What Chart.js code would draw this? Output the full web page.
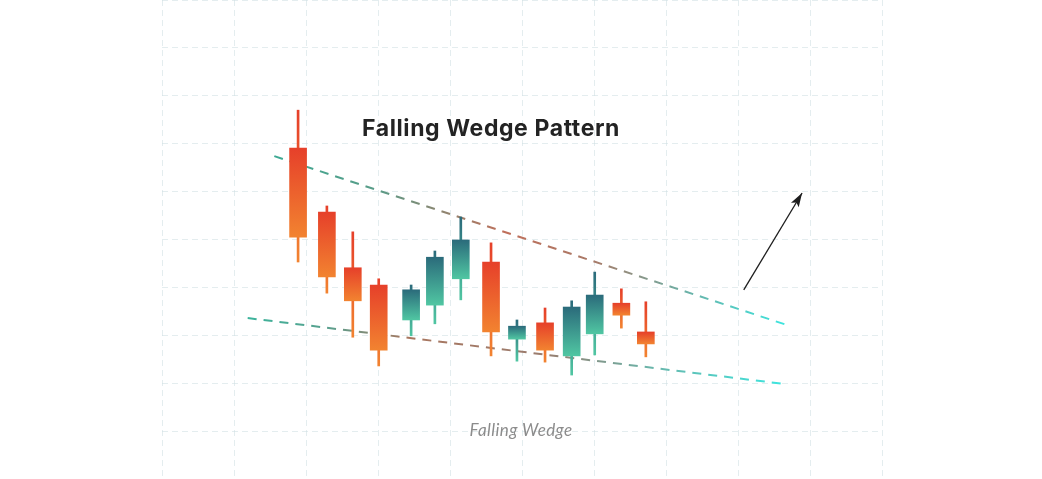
<!DOCTYPE html>
<html>
<head>
<meta charset="utf-8">
<title>Falling Wedge Pattern</title>
<script src="https://cdn.jsdelivr.net/npm/chart.js@4.4.1/dist/chart.umd.min.js"></script>
<style>
    body { margin: 0; background: #fff; }
    #wrap { position: relative; width: 1042px; height: 479px; overflow: hidden; }
    #wedgeChart { position: absolute; left: 0; top: 0; }
    .label { position: absolute; white-space: nowrap; transform: translateX(-50%); line-height: 1; }
    #title { left: 491px; top: 114px; font: 700 23px Inter, sans-serif; color: #232323; letter-spacing: 0.6px; }
    #subtitle { left: 521px; top: 419px; font: italic 400 17px Lato, sans-serif; color: #8c8c8c; letter-spacing: 0.4px; }
</style>
</head>
<body>
<div id="wrap">
    <canvas id="wedgeChart" width="1042" height="479"></canvas>
    <div class="label" id="title">Falling Wedge Pattern</div>
    <div class="label" id="subtitle">Falling Wedge</div>
</div>
<script>
// candle positions and prices (grid units)
const candleX    = [1.89, 2.29, 2.65, 3.01, 3.46, 3.79, 4.15, 4.57, 4.93, 5.32, 5.69, 6.01, 6.38, 6.72];
const openVals   = [6.91, 5.57, 4.41, 4.05, 3.32, 3.63, 4.18, 4.53, 2.92, 3.26, 2.57, 3.03, 3.67, 3.07];
const highVals   = [7.70, 5.70, 5.16, 4.18, 4.05, 4.76, 5.47, 4.93, 3.32, 3.57, 3.72, 4.32, 3.97, 3.70];
const lowVals    = [4.53, 3.88, 2.96, 2.36, 2.99, 3.24, 3.74, 2.57, 2.46, 2.44, 2.17, 2.59, 3.15, 2.55];
const closeVals  = [5.05, 4.22, 3.72, 2.69, 3.95, 4.63, 4.99, 3.07, 3.19, 2.69, 3.59, 3.84, 3.42, 2.82];

// wedge trend lines and breakout arrow
const upperLineX = [1.56, 8.69];
const upperLineY = [6.74, 3.21];
const lowerLineX = [1.19, 8.66];
const lowerLineY = [3.36, 1.98];
const arrowX     = [8.08, 8.89];
const arrowY     = [3.95, 5.97];

// grid ticks
const xTicks = [0, 1, 2, 3, 4, 5, 6, 7, 8, 9, 10];
const yTicks = [0, 1, 2, 3, 4, 5, 6, 7, 8, 9, 10];

const RED = ['#e6402a', '#f28330'];
const TEAL = ['#2b6b7b', '#50c6a2'];

function isUp(i) { return closeVals[i] >= openVals[i]; }

// vertical gradient for a candle part, from its top value to its bottom value
function candleFill(ctx, topVal, botVal) {
    const chart = ctx.chart;
    const y = chart.scales.y;
    if (!y || !chart.chartArea) return RED[0];
    const cols = isUp(ctx.dataIndex) ? TEAL : RED;
    const g = chart.ctx.createLinearGradient(0, y.getPixelForValue(topVal), 0, y.getPixelForValue(botVal));
    g.addColorStop(0, cols[0]);
    g.addColorStop(1, cols[1]);
    return g;
}

// horizontal gradient along a trend line
function lineFill(ctx, xs, stops) {
    const chart = ctx.chart;
    const x = chart.scales.x;
    if (!x || !chart.chartArea) return stops[0][1];
    const g = chart.ctx.createLinearGradient(x.getPixelForValue(xs[0]), 0, x.getPixelForValue(xs[1]), 0);
    stops.forEach(s => g.addColorStop(s[0], s[1]));
    return g;
}

const arrowHead = {
    id: 'arrowHead',
    afterDatasetsDraw(chart) {
        const meta = chart.getDatasetMeta(4);
        if (!meta || meta.data.length < 2) return;
        const p0 = meta.data[0], p1 = meta.data[1];
        const a = Math.atan2(p1.y - p0.y, p1.x - p0.x);
        const len = 14, half = 4.5;
        const ctx = chart.ctx;
        ctx.save();
        ctx.translate(p1.x, p1.y);
        ctx.rotate(a);
        ctx.beginPath();
        ctx.moveTo(0, 0);
        ctx.lineTo(-len, -half);
        ctx.lineTo(-len + 3, 0);
        ctx.lineTo(-len, half);
        ctx.closePath();
        ctx.fillStyle = '#1e1e1e';
        ctx.fill();
        ctx.restore();
    }
};

document.addEventListener('DOMContentLoaded', function () {
    const canvas = document.getElementById('wedgeChart');

    const bodies = candleX.map((x, i) => ({ x: x, y: [openVals[i], closeVals[i]] }));
    const wicks = candleX.map((x, i) => ({ x: x, y: [lowVals[i], highVals[i]] }));

    new Chart(canvas.getContext('2d'), {
        type: 'bar',
        data: {
            datasets: [{
                label: 'body',
                data: bodies,
                grouped: false,
                barThickness: 17,
                borderWidth: 0,
                order: 0,
                backgroundColor: ctx => ctx.type !== 'data' ? RED[0]
                    : candleFill(ctx, Math.max(openVals[ctx.dataIndex], closeVals[ctx.dataIndex]),
                                      Math.min(openVals[ctx.dataIndex], closeVals[ctx.dataIndex]))
            }, {
                label: 'wick',
                data: wicks,
                grouped: false,
                barThickness: 2,
                borderWidth: 0,
                order: 1,
                backgroundColor: ctx => ctx.type !== 'data' ? RED[0]
                    : candleFill(ctx, highVals[ctx.dataIndex], lowVals[ctx.dataIndex])
            }, {
                type: 'line',
                label: 'upper',
                data: upperLineX.map((x, i) => ({ x: x, y: upperLineY[i] })),
                borderWidth: 2,
                borderDash: [9, 7],
                pointRadius: 0,
                order: 2,
                borderColor: ctx => lineFill(ctx, upperLineX,
                    [[0, '#3eaa94'], [0.2, '#5a9c88'], [0.45, '#c06f5a'], [0.62, '#a97a68'], [0.8, '#6cb0a6'], [1, '#3ce6e0']])
            }, {
                type: 'line',
                label: 'lower',
                data: lowerLineX.map((x, i) => ({ x: x, y: lowerLineY[i] })),
                borderWidth: 2,
                borderDash: [9, 7],
                pointRadius: 0,
                order: 2,
                borderColor: ctx => lineFill(ctx, lowerLineX,
                    [[0, '#3cb49c'], [0.15, '#5aa08e'], [0.3, '#a9765f'], [0.55, '#9a7c6e'], [0.75, '#6ab5aa'], [1, '#3ce6e0']])
            }, {
                type: 'line',
                label: 'arrow',
                data: arrowX.map((x, i) => ({ x: x, y: arrowY[i] })),
                borderWidth: 1.3,
                borderColor: '#1e1e1e',
                pointRadius: 0,
                order: 3
            }]
        },
        options: {
            responsive: false,
            animation: false,
            layout: { padding: { left: 162, right: 160, top: 0, bottom: 0 } },
            scales: {
                x: {
                    type: 'linear',
                    min: xTicks[0],
                    max: xTicks[xTicks.length - 1],
                    offset: false,
                    afterBuildTicks: s => { s.ticks = xTicks.map(v => ({ value: v })); },
                    ticks: { display: false },
                    grid: { color: 'rgba(205, 222, 226, 0.55)', lineWidth: 1, drawTicks: false, offset: false },
                    border: { display: false, dash: [6, 4] }
                },
                y: {
                    min: yTicks[0],
                    max: yTicks[yTicks.length - 1],
                    afterBuildTicks: s => { s.ticks = yTicks.map(v => ({ value: v })); },
                    ticks: { display: false },
                    grid: { color: 'rgba(205, 222, 226, 0.55)', lineWidth: 1, drawTicks: false },
                    border: { display: false, dash: [6, 4] }
                }
            },
            plugins: {
                legend: { display: false },
                tooltip: { enabled: false }
            }
        },
        plugins: [arrowHead]
    });
});
</script>
</body>
</html>
